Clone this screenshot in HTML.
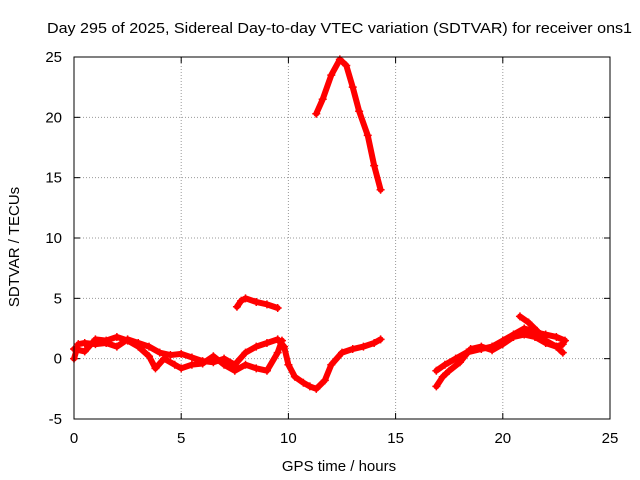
<!DOCTYPE html>
<html><head><meta charset="utf-8"><style>
body{margin:0;background:#fff;}
svg{display:block;font-family:"Liberation Sans",sans-serif;font-size:15px;}
</style></head><body>
<svg id="chart" width="640" height="480">
<text x="47" y="33" textLength="585" lengthAdjust="spacingAndGlyphs">Day 295 of 2025, Sidereal Day-to-day VTEC variation (SDTVAR) for receiver ons1</text>
<g id="grid"></g><g id="series"></g>
<rect x="74" y="57" width="536" height="362" fill="none" stroke="#000"/>
<text x="339" y="471" text-anchor="middle">GPS time / hours</text>
<text transform="translate(19,247) rotate(-90)" text-anchor="middle">SDTVAR / TECUs</text>
</svg>
<script>
const xTicks=[0,5,10,15,20,25];
const yTicks=[-5,0,5,10,15,20,25];
const sA_t=[0,0.2,0.5,1,1.5,2,2.5,3,3.5,4,4.5,5,5.5,6,6.5,7,7.5,8,8.5,9,9.5,9.8,10,10.3,10.7,11,11.3,11.7,12,12.5,13,13.5,14,14.3];
const sA_v=[0,1.2,1.3,1.2,1.3,1.0,1.6,1.3,1.0,0.5,0.3,0.4,0.1,-0.2,-0.3,0,-0.5,0.5,1.0,1.3,1.6,1.0,-0.5,-1.5,-2.0,-2.3,-2.5,-1.8,-0.5,0.5,0.8,1.0,1.3,1.6];
const sB_t=[0,0.5,1,1.5,2,2.5,3,3.5,3.8,4.2,4.7,5,5.5,6,6.5,7,7.5,8,8.5,9,9.5,9.7];
const sB_v=[0.8,0.6,1.6,1.5,1.8,1.5,1.0,0.2,-0.8,0,-0.5,-0.8,-0.5,-0.4,0.2,-0.5,-1.0,-0.5,-0.8,-1.0,0.5,1.5];
const sC_t=[7.6,7.8,8,8.5,9,9.5];
const sC_v=[4.3,4.8,5.0,4.7,4.5,4.2];
const sD_t=[11.3,11.6,12,12.4,12.7,13,13.3,13.7,14,14.3];
const sD_v=[20.3,21.5,23.5,24.8,24.3,22.5,20.5,18.5,16,14];
const sE_t=[16.9,17.2,17.5,18,18.5,19,19.5,20,20.5,21,21.5,22,22.5,22.8];
const sE_v=[-2.3,-1.5,-1.0,-0.3,0.8,1.0,0.7,1.2,1.8,2.0,1.8,1.3,1.0,0.5];
const sF_t=[16.9,17.3,17.8,18.3,19,19.5,20,20.5,21,21.5,22,22.5,22.9];
const sF_v=[-1.0,-0.5,0,0.5,0.8,1.0,1.5,2.0,2.5,2.2,2.0,1.8,1.5];
const sG_t=[20.8,21.2,21.6,22,22.5,22.8];
const sG_v=[3.5,3.0,2.3,1.5,1.0,1.2];
const NS="http://www.w3.org/2000/svg";
const X=t=>74+t/25*536, Y=v=>419-(v+5)/30*362;
const grid=document.getElementById('grid'), ser=document.getElementById('series');
function mk(tag,attrs,parent){const e=document.createElementNS(NS,tag);for(const k in attrs)e.setAttribute(k,attrs[k]);parent.appendChild(e);return e;}
xTicks.forEach(t=>{
  const x=X(t);
  if(t>0&&t<25){const l=mk('line',{x1:x,x2:x,y1:57,y2:419,stroke:'#999','stroke-dasharray':'1,2'},grid);
  
  }
  mk('line',{x1:x,x2:x,y1:419,y2:413,stroke:'#000'},grid);
  mk('line',{x1:x,x2:x,y1:57,y2:63,stroke:'#000'},grid);
  const tx=mk('text',{x:x,y:443,'text-anchor':'middle'},grid);tx.textContent=t;
  
  
});
yTicks.forEach(v=>{
  const y=Y(v);
  if(v>-5&&v<25){const l=mk('line',{x1:74,x2:610,y1:y,y2:y,stroke:'#999','stroke-dasharray':'1,2'},grid);
  
  }
  mk('line',{x1:74,x2:80,y1:y,y2:y,stroke:'#000'},grid);
  mk('line',{x1:610,x2:604,y1:y,y2:y,stroke:'#000'},grid);
  const tx=mk('text',{x:62,y:y+5,'text-anchor':'end'},grid);tx.textContent=v;
  
  
});
[[sA_t,sA_v],[sB_t,sB_v],[sC_t,sC_v],[sD_t,sD_v],[sE_t,sE_v],[sF_t,sF_v],[sG_t,sG_v]].forEach(([ts,vs])=>{
  const pts=ts.map((t,i)=>X(t)+','+Y(vs[i])).join(' ');
  const pl=mk('polyline',{points:pts,fill:'none',stroke:'#f00','stroke-width':6,'stroke-linejoin':'round','stroke-linecap':'round'},ser);
  
  
  ts.forEach((t,i)=>{const x=X(t),y=Y(vs[i]);
    const p=mk('path',{d:`M${x-4},${y}h8M${x},${y-4}v8`,stroke:'#f00','stroke-width':1.5},ser);
    
    
  });
});
</script>
</body></html>
